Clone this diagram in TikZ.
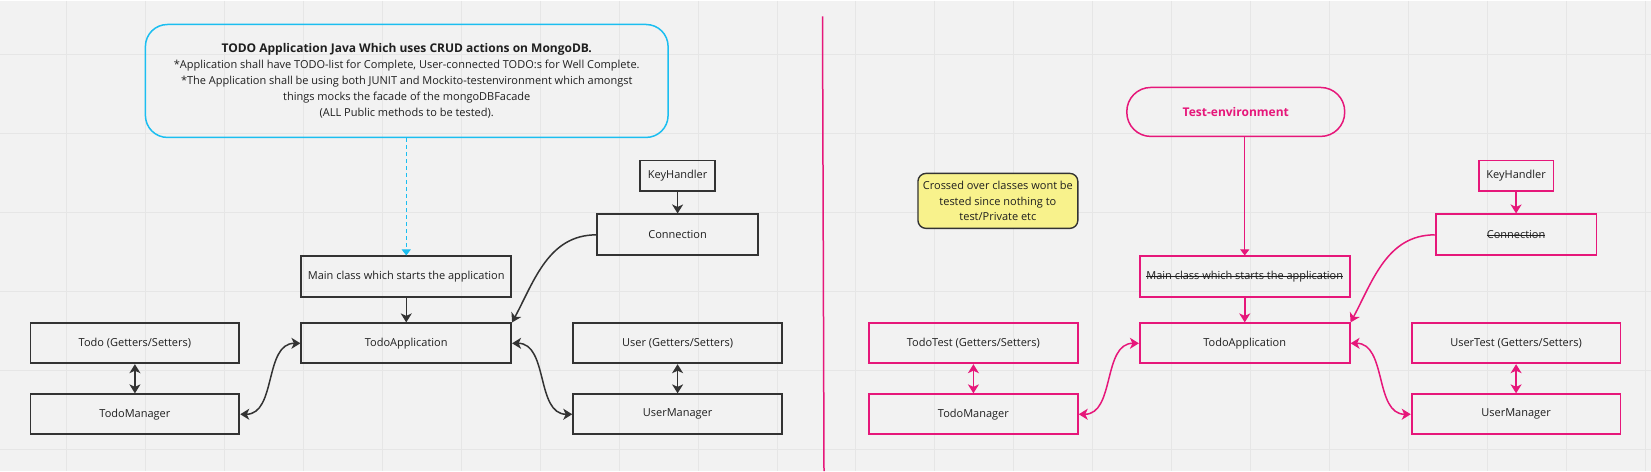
\documentclass[tikz,border=0pt]{standalone}
\usepackage{fontspec}
\setmainfont{Open Sans}
\usetikzlibrary{arrows.meta}

\definecolor{ink}{HTML}{333333}
\definecolor{rose}{HTML}{E6177A}
\definecolor{sky}{HTML}{1BBEF0}
\definecolor{paper}{HTML}{F2F2F2}
\definecolor{gridline}{HTML}{E6E6E6}
\definecolor{sticky}{HTML}{F8F28C}

\newcommand\struck[1]{\begingroup\setbox0\hbox{#1}\rlap{\rule[0.3em]{\wd0}{0.6pt}}\box0\endgroup}

\tikzset{
  classbox/.style={draw=ink, line width=1.8pt, minimum width=209pt, minimum height=40pt,
    text=black!88, font=\fontsize{11}{13}\selectfont},
  smallbox/.style={classbox, minimum width=75pt, minimum height=31pt},
  testbox/.style={classbox, draw=rose},
  link/.style={ink, line width=1.5pt, -{Stealth[length=9pt,width=11pt,inset=2.5pt]}},
  twoway/.style={link, {Stealth[length=9pt,width=11pt,inset=2.5pt]}-{Stealth[length=9pt,width=11pt,inset=2.5pt]}},
}

\begin{document}
\begin{tikzpicture}[x=1pt, y=-1pt]

% Board
\fill[paper] (0,0) rectangle (1651,471);
\foreach \gx in {66,145,...,1651} \draw[gridline, line width=1pt] (\gx,0) -- (\gx,471);
\foreach \gy in {54,133,...,471} \draw[gridline, line width=1pt] (0,\gy) -- (1651,\gy);

% Application side
\node[draw=sky, line width=1.5pt, rounded corners=22pt, minimum width=523pt, minimum height=113pt,
  align=center, text=black!88, font=\fontsize{11}{16}\selectfont] (brief) at (406.5,80.5)
  {{\fontsize{12}{16}\selectfont\bfseries TODO Application Java Which uses CRUD actions on MongoDB.}\\
   *Application shall have TODO-list for Complete, User-connected TODO:s for Well Complete.\\
   *The Application shall be using both JUNIT and Mockito-testenvironment which amongst\\
   things mocks the facade of the mongoDBFacade\\
   (ALL Public methods to be tested).};

\node[smallbox] (keys) at (677.5,175.5) {KeyHandler};
\node[classbox, minimum width=161pt, minimum height=41pt] (conn) at (677.5,234.5) {Connection};
\node[classbox, minimum width=210pt, minimum height=41pt] (main) at (406,276.5) {Main class which starts the application};
\node[classbox, minimum width=210pt] (app) at (406,343) {TodoApplication};
\node[classbox] (todo) at (134.5,343) {Todo (Getters/Setters)};
\node[classbox] (todomgr) at (134.5,414) {TodoManager};
\node[classbox] (user) at (677.5,343) {User (Getters/Setters)};
\node[classbox] (usermgr) at (677.5,414) {UserManager};

\draw[sky, line width=1pt, dash pattern=on 4pt off 3pt, -{Triangle[length=6pt,width=9pt]}] (brief.south -| main.north) -- (main.north);
\draw[link] (keys) -- (conn);
\draw[link] (main) -- (app);
\draw[link] (conn.west) to[out=180, in=62] (app.north east);
\draw[twoway] (todo) -- (todomgr);
\draw[twoway] (user) -- (usermgr);
\draw[twoway] (todomgr.east) to[out=0, in=180] (app.west);
\draw[twoway] (app.east) to[out=0, in=180] (usermgr.west);

% Divider
\draw[rose, line width=1.5pt] (822.5,16) -- (824,471);

% Test side
\node[draw=rose, line width=1.5pt, rounded corners=24pt, minimum width=218pt, minimum height=49pt,
  text=rose, font=\fontsize{12}{14}\selectfont\bfseries] (testenv) at (1236,111.5) {Test-environment};
\node[draw=ink, line width=1.4pt, fill=sticky, rounded corners=8pt, minimum width=160pt, minimum height=55pt,
  align=center, text=black!88, font=\fontsize{11}{16}\selectfont] (memo) at (998,200.5)
  {Crossed over classes wont be\\ tested since nothing to\\ test/Private etc};

\node[smallbox, draw=rose] (tkeys) at (1516.5,175.5) {KeyHandler};
\node[testbox, minimum width=161pt, minimum height=41pt] (tconn) at (1516.5,234.5) {\struck{Connection}};
\node[testbox, minimum width=210pt, minimum height=41pt] (tmain) at (1245,276.5) {\struck{Main class which starts the application}};
\node[testbox, minimum width=210pt] (tapp) at (1245,343) {TodoApplication};
\node[testbox] (ttodo) at (973.5,343) {TodoTest (Getters/Setters)};
\node[testbox] (ttodomgr) at (973.5,414) {TodoManager};
\node[testbox] (tuser) at (1516.5,343) {UserTest (Getters/Setters)};
\node[testbox] (tusermgr) at (1516.5,414) {UserManager};

\draw[rose, line width=1pt, -{Triangle[length=6pt,width=9pt]}] (testenv.south -| tmain.north) -- (tmain.north);
\draw[link, rose] (tkeys) -- (tconn);
\draw[link, rose] (tmain) -- (tapp);
\draw[link, rose] (tconn.west) to[out=180, in=62] (tapp.north east);
\draw[twoway, rose] (ttodo) -- (ttodomgr);
\draw[twoway, rose] (tuser) -- (tusermgr);
\draw[twoway, rose] (ttodomgr.east) to[out=0, in=180] (tapp.west);
\draw[twoway, rose] (tapp.east) to[out=0, in=180] (tusermgr.west);

\end{tikzpicture}
\end{document}
